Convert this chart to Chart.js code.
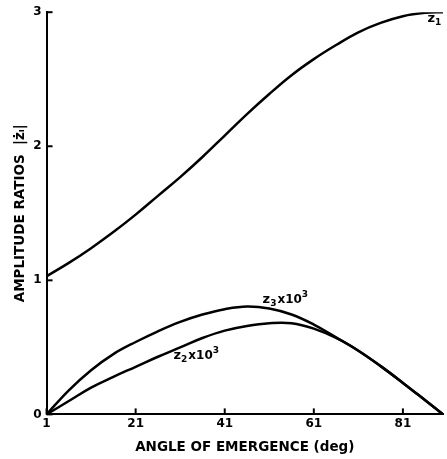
<!DOCTYPE html>
<html>
<head>
<meta charset="utf-8">
<script src="https://cdn.jsdelivr.net/npm/chart.js@4.4.0/dist/chart.umd.min.js"></script>
<style>
  html, body { margin: 0; padding: 0; background: #fff; }
  #wrap { width: 447px; height: 459px; }
</style>
</head>
<body>
<div id="wrap"><canvas id="chart"></canvas></div>
<script>
// angle of emergence (deg)
const angles = [1, 6, 11, 16, 21, 26, 31, 36, 41, 46, 51, 56, 61, 66, 71, 76, 81, 86, 90];
const z1 = [1.03, 1.13, 1.24, 1.36, 1.49, 1.63, 1.77, 1.92, 2.08, 2.24, 2.39, 2.53, 2.65, 2.755, 2.85, 2.92, 2.97, 2.995, 3.0];
const z3x1e3 = [0, 0.18, 0.33, 0.45, 0.54, 0.62, 0.69, 0.745, 0.785, 0.805, 0.79, 0.745, 0.67, 0.575, 0.475, 0.36, 0.235, 0.105, 0];
const z2x1e3 = [0, 0.10, 0.20, 0.28, 0.355, 0.43, 0.50, 0.57, 0.625, 0.66, 0.68, 0.68, 0.64, 0.57, 0.475, 0.36, 0.235, 0.105, 0];
const xTicks = [1, 21, 41, 61, 81];
const yTicks = [0, 1, 2, 3];

const pts = (ys) => angles.map((a, i) => ({ x: a, y: ys[i] }));
const font = "'DejaVu Sans', sans-serif";

// curve labels, placed in data units
const curveLabels = [
  { x: 86.5, y: 2.93, main: "z", sub: "1", sup: "" },
  { x: 49.5, y: 0.83, main: "z", sub: "3", sup: "x10", pow: "3" },
  { x: 29.5, y: 0.41, main: "z", sub: "2", sup: "x10", pow: "3" },
];

// inward tick marks + curve labels
const decor = {
  id: "decor",
  afterDraw(chart) {
    const { ctx, chartArea, scales } = chart;
    ctx.save();
    ctx.strokeStyle = "#000";
    ctx.lineWidth = 2;
    xTicks.forEach(v => {
      const px = scales.x.getPixelForValue(v);
      ctx.beginPath();
      ctx.moveTo(px, chartArea.bottom);
      ctx.lineTo(px, chartArea.bottom - 6);
      ctx.stroke();
    });
    yTicks.forEach(v => {
      const py = scales.y.getPixelForValue(v);
      ctx.beginPath();
      ctx.moveTo(chartArea.left, py);
      ctx.lineTo(chartArea.left + 6, py);
      ctx.stroke();
    });
    ctx.fillStyle = "#000";
    ctx.textBaseline = "alphabetic";
    curveLabels.forEach(l => {
      let px = scales.x.getPixelForValue(l.x);
      const py = scales.y.getPixelForValue(l.y);
      ctx.font = "bold 13px " + font;
      ctx.fillText(l.main, px, py);
      px += ctx.measureText(l.main).width;
      ctx.font = "bold 9px " + font;
      ctx.fillText(l.sub, px, py + 3);
      px += ctx.measureText(l.sub).width + 1;
      if (l.sup) {
        ctx.font = "bold 12px " + font;
        ctx.fillText(l.sup, px, py);
        px += ctx.measureText(l.sup).width;
        ctx.font = "bold 9px " + font;
        ctx.fillText(l.pow, px, py - 6);
      }
    });
    ctx.restore();
  }
};

const line = (label, ys) => ({
  label,
  data: pts(ys),
  borderColor: "#000",
  borderWidth: 2.5,
  pointRadius: 0,
  tension: 0.4,
  fill: false,
});

new Chart(document.getElementById("chart"), {
  type: "line",
  data: {
    datasets: [
      line("z1", z1),
      line("z3 x 10^3", z3x1e3),
      line("z2 x 10^3", z2x1e3),
    ],
  },
  options: {
    responsive: true,
    maintainAspectRatio: false,
    animation: false,
    layout: { padding: { left: 2, right: 4, top: 6, bottom: 2 } },
    plugins: { legend: { display: false }, tooltip: { enabled: false } },
    scales: {
      x: {
        type: "linear",
        min: 1,
        max: 90,
        afterBuildTicks: (s) => { s.ticks = xTicks.map(v => ({ value: v })); },
        grid: { display: false, drawTicks: false },
        border: { display: true, color: "#000", width: 2 },
        ticks: { color: "#000", padding: 2, maxRotation: 0, font: { family: font, size: 12, weight: "bold" } },
        title: {
          display: true,
          text: "ANGLE OF EMERGENCE (deg)",
          color: "#000",
          padding: { top: 7, bottom: 1 },
          font: { family: font, size: 13.5, weight: "bold" },
        },
      },
      y: {
        min: 0,
        max: 3,
        afterBuildTicks: (s) => { s.ticks = yTicks.map(v => ({ value: v })); },
        grid: { display: false, drawTicks: false },
        border: { display: true, color: "#000", width: 2 },
        ticks: { color: "#000", padding: 5, font: { family: font, size: 12, weight: "bold" } },
        title: {
          display: true,
          text: "AMPLITUDE RATIOS  |żᵢ|",
          color: "#000",
          padding: { top: 10, bottom: 0 },
          font: { family: font, size: 13.5, weight: "bold" },
        },
      },
    },
  },
  plugins: [decor],
});
</script>
</body>
</html>
